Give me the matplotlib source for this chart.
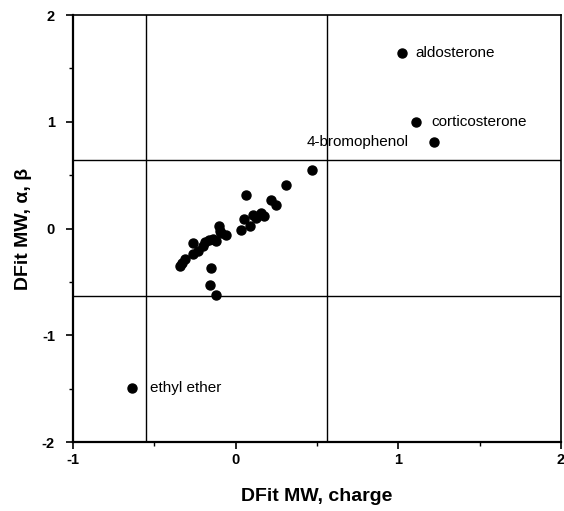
import matplotlib
matplotlib.use("Agg")
import matplotlib.pyplot as plt
from matplotlib.ticker import MultipleLocator

plt.rcParams['font.family'] = ['Liberation Sans', 'DejaVu Sans']
plt.rcParams['axes.unicode_minus'] = False

# Cluster points
x_vals = [-0.345, -0.33, -0.31, -0.26, -0.26, -0.23, -0.20, -0.19, -0.165, -0.14,
          -0.12, -0.105, -0.095, -0.09, -0.06, -0.15, -0.155, -0.12, 0.035, 0.05,
          0.09, 0.105, 0.125, 0.155, 0.175, 0.065, 0.215, 0.25, 0.31, 0.47]
y_vals = [-0.35, -0.32, -0.29, -0.14, -0.24, -0.21, -0.16, -0.13, -0.11, -0.10,
          -0.12, 0.02, -0.02, -0.04, -0.06, -0.37, -0.53, -0.62, -0.01, 0.09,
          0.025, 0.125, 0.095, 0.15, 0.12, 0.31, 0.265, 0.22, 0.41, 0.55]

# Labelled outliers
lab_names = ["aldosterone", "corticosterone", "4-bromophenol", "ethyl ether"]
lab_x = [1.02, 1.11, 1.22, -0.635]
lab_y = [1.64, 1.00, 0.81, -1.49]

# Cut-off lines
h_cut = [0.64, -0.63]
v_cut = [-0.553, 0.56]

fig = plt.figure(figsize=(5.64, 5.11), dpi=100)
ax = fig.add_axes([0.1294, 0.135, 0.8653, 0.8356])

for h in h_cut:
    ax.axhline(h, color='black', lw=1.0)
for v in v_cut:
    ax.axvline(v, color='black', lw=1.0)

ax.plot(x_vals + lab_x, y_vals + lab_y, 'o', color='black', ms=6.5, mec='black')

offsets = [(10, 0), (11, 0), (-18, 0), (13, 0)]
aligns = ['left', 'left', 'right', 'left']
for n, xx, yy, off, al in zip(lab_names, lab_x, lab_y, offsets, aligns):
    ax.annotate(n, (xx, yy), xytext=off, textcoords='offset points',
                ha=al, va='center', fontsize=11)

ax.set_xlim(-1, 2)
ax.set_ylim(-2, 2)
ax.xaxis.set_major_locator(MultipleLocator(1))
ax.xaxis.set_minor_locator(MultipleLocator(0.5))
ax.yaxis.set_major_locator(MultipleLocator(1))
ax.yaxis.set_minor_locator(MultipleLocator(0.5))
ax.tick_params(which='major', direction='out', length=5, width=1.2, labelsize=10.5)
ax.tick_params(axis='y', which='major', pad=8)
ax.tick_params(axis='x', which='major', pad=3)
ax.tick_params(which='minor', direction='out', length=3, width=1.0)
for lbl in ax.get_xticklabels() + ax.get_yticklabels():
    lbl.set_fontweight('bold')

for s in ['left', 'bottom']:
    ax.spines[s].set_linewidth(1.6)
for s in ['top', 'right']:
    ax.spines[s].set_linewidth(1.2)

ax.set_xlabel("DFit MW, charge", fontsize=14, fontweight='bold', labelpad=15)
ax.set_ylabel("DFit MW, \u03b1, \u03b2", fontsize=14, fontweight='bold', labelpad=7)

fig.savefig("out.png", dpi=100)
